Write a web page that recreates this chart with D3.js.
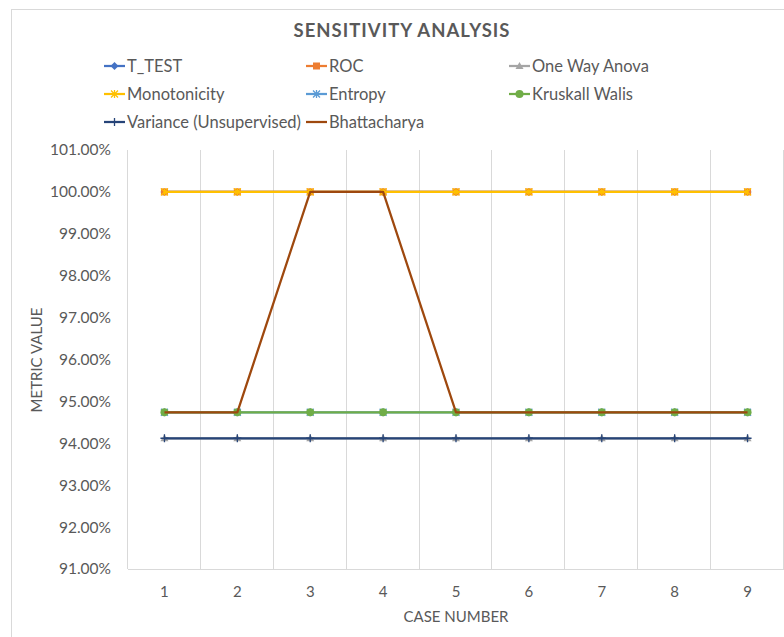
<!DOCTYPE html>
<html>
<head>
<meta charset="utf-8">
<script src="https://cdn.jsdelivr.net/npm/d3@7"></script>
<style>
  html, body { margin: 0; padding: 0; background: #fff; }
  svg { display: block; font-family: Lato, "Open Sans", sans-serif; }
</style>
</head>
<body>
<svg id="chart" width="784" height="637"></svg>
<script>
// Case numbers along the x axis
const cases = [1, 2, 3, 4, 5, 6, 7, 8, 9];

// Metric value per case for each method
const tTest        = [1, 1, 1, 1, 1, 1, 1, 1, 1];
const roc          = [1, 1, 1, 1, 1, 1, 1, 1, 1];
const oneWayAnova  = [0.9412, 0.9412, 0.9412, 0.9412, 0.9412, 0.9412, 0.9412, 0.9412, 0.9412];
const monotonicity = [1, 1, 1, 1, 1, 1, 1, 1, 1];
const entropy      = [0.9474, 0.9474, 0.9474, 0.9474, 0.9474, 0.9474, 0.9474, 0.9474, 0.9474];
const kruskall     = [0.9474, 0.9474, 0.9474, 0.9474, 0.9474, 0.9474, 0.9474, 0.9474, 0.9474];
const variance     = [0.9412, 0.9412, 0.9412, 0.9412, 0.9412, 0.9412, 0.9412, 0.9412, 0.9412];
const bhatt        = [0.9474, 0.9474, 1, 1, 0.9474, 0.9474, 0.9474, 0.9474, 0.9474];

// Y axis tick values
const yTicks = [0.91, 0.92, 0.93, 0.94, 0.95, 0.96, 0.97, 0.98, 0.99, 1.00, 1.01];

const seriesNames = ["T_TEST", "ROC", "One Way Anova", "Monotonicity", "Entropy",
                     "Kruskall Walis", "Variance (Unsupervised)", "Bhattacharya"];
const seriesValues = [tTest, roc, oneWayAnova, monotonicity, entropy, kruskall, variance, bhatt];
const seriesColors = ["#4472C4", "#ED7D31", "#A5A5A5", "#FFC000", "#5B9BD5",
                      "#70AD47", "#264478", "#9E480E"];
const seriesMarkers = ["diamond", "square", "triangle", "star", "asterisk", "circle", "plus", "none"];

const series = seriesNames.map((name, i) => ({
  name, values: seriesValues[i], color: seriesColors[i], marker: seriesMarkers[i]
}));

const svg = d3.select("#chart");
const textColor = "#595959";
const gridColor = "#d9d9d9";

// Chart frame
svg.append("rect")
  .attr("x", 11.5).attr("y", 9.5)
  .attr("width", 800).attr("height", 700)
  .attr("fill", "#fff").attr("stroke", gridColor);

const plot = { left: 128, right: 784, top: 150, bottom: 569 };

const x = d3.scaleBand().domain(cases).range([plot.left, plot.right]).padding(0);
const y = d3.scaleLinear().domain([0.91, 1.01]).range([plot.bottom, plot.top]);

// Title
svg.append("text")
  .attr("x", 402).attr("y", 37)
  .attr("text-anchor", "middle")
  .attr("font-size", 18.5).attr("font-weight", "bold")
  .attr("letter-spacing", 1)
  .attr("fill", textColor)
  .text("SENSITIVITY ANALYSIS");

// Vertical gridlines on category boundaries
const bounds = cases.map(c => x(c)).concat([x(cases[cases.length - 1]) + x.bandwidth()]);
svg.append("g").selectAll("line").data(bounds).join("line")
  .attr("x1", d => Math.round(d) - 0.5).attr("x2", d => Math.round(d) - 0.5)
  .attr("y1", plot.top).attr("y2", plot.bottom)
  .attr("stroke", gridColor).attr("stroke-width", 1);

// X axis line
svg.append("line")
  .attr("x1", plot.left).attr("x2", plot.right)
  .attr("y1", plot.bottom + 0.5).attr("y2", plot.bottom + 0.5)
  .attr("stroke", gridColor);

// Y axis
const yAxis = svg.append("g")
  .attr("transform", `translate(${plot.left - 17},0)`)
  .call(d3.axisLeft(y).tickValues(yTicks).tickFormat(d3.format(".2%")).tickSize(0).tickPadding(0));
yAxis.select(".domain").remove();
yAxis.selectAll("text").attr("font-size", 15.5).attr("fill", textColor)
  .attr("font-family", "Lato, 'Open Sans', sans-serif");

// X axis
const xAxis = svg.append("g")
  .attr("transform", `translate(0,${plot.bottom + 17})`)
  .call(d3.axisBottom(x).tickSize(0).tickPadding(0));
xAxis.select(".domain").remove();
xAxis.selectAll("text").attr("font-size", 15).attr("fill", textColor)
  .attr("dy", "0.71em")
  .attr("font-family", "Lato, 'Open Sans', sans-serif");

// Axis titles
svg.append("text")
  .attr("x", (plot.left + plot.right) / 2).attr("y", 622)
  .attr("text-anchor", "middle").attr("font-size", 15).attr("fill", textColor)
  .text("CASE NUMBER");
svg.append("text")
  .attr("transform", "translate(42,360) rotate(-90)")
  .attr("text-anchor", "middle").attr("font-size", 15).attr("fill", textColor)
  .text("METRIC VALUE");

// Marker drawing
function drawMarker(g, type, color) {
  switch (type) {
    case "diamond":
      g.append("path").attr("d", "M0,-4L4,0L0,4L-4,0Z").attr("fill", color);
      break;
    case "square":
      g.append("rect").attr("x", -3.5).attr("y", -3.5).attr("width", 7).attr("height", 7)
        .attr("fill", color);
      break;
    case "triangle":
      g.append("path").attr("d", "M0,-4L4,3L-4,3Z").attr("fill", color);
      break;
    case "star":
    case "asterisk":
      g.append("path").attr("d", "M-3.5,-3.5L3.5,3.5M-3.5,3.5L3.5,-3.5M0,-4L0,4")
        .attr("stroke", color).attr("stroke-width", 1.3).attr("fill", "none");
      break;
    case "circle":
      g.append("circle").attr("r", 4).attr("fill", color);
      break;
    case "plus":
      g.append("path").attr("d", "M-4,0L4,0M0,-4L0,4")
        .attr("stroke", color).attr("stroke-width", 1.3).attr("fill", "none");
      break;
  }
}

// Series lines and markers
const line = d3.line()
  .x((d, i) => x(cases[i]) + x.bandwidth() / 2)
  .y(d => y(d));

series.forEach(s => {
  const g = svg.append("g");
  g.append("path")
    .attr("d", line(s.values))
    .attr("fill", "none")
    .attr("stroke", s.color)
    .attr("stroke-width", 2.25)
    .attr("stroke-linejoin", "round");
  s.values.forEach((v, i) => {
    const m = g.append("g")
      .attr("transform", `translate(${x(cases[i]) + x.bandwidth() / 2},${y(v)})`);
    drawMarker(m, s.marker, s.color);
  });
});

// Legend: three columns, three rows
const legendCols = [104, 306, 509];
const legendRows = [66, 94, 122];
series.forEach((s, i) => {
  const lx = legendCols[i % 3];
  const ly = legendRows[Math.floor(i / 3)];
  const g = svg.append("g").attr("transform", `translate(${lx},${ly})`);
  g.append("line").attr("x1", 0).attr("x2", 21).attr("y1", 0).attr("y2", 0)
    .attr("stroke", s.color).attr("stroke-width", 2.25);
  const m = g.append("g").attr("transform", "translate(10.5,0)");
  drawMarker(m, s.marker, s.color);
  g.append("text")
    .attr("x", 23).attr("y", 0).attr("dy", "0.35em")
    .attr("font-size", 16.5).attr("fill", textColor)
    .text(s.name);
});
</script>
</body>
</html>
